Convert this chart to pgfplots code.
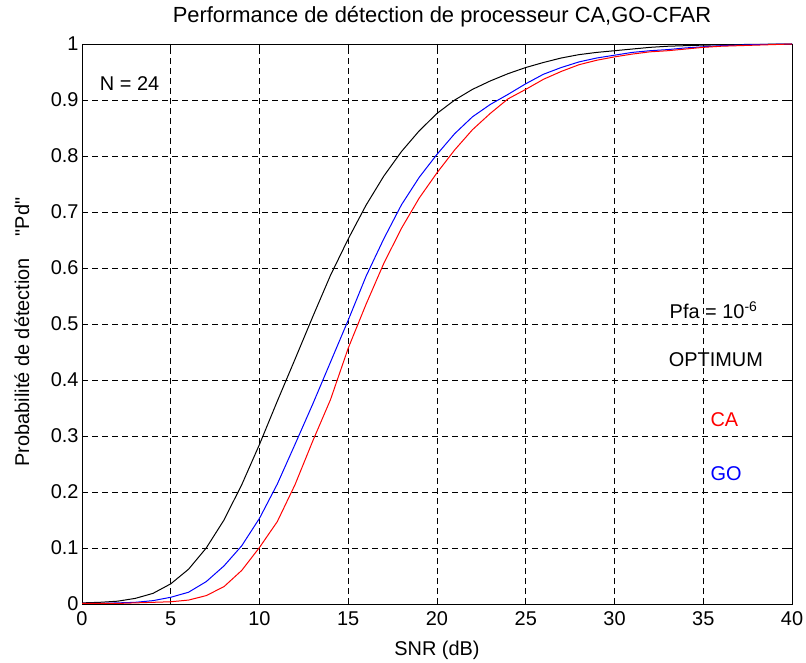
\documentclass[border=0pt]{standalone}
\usepackage{fontspec}
\setmainfont{Liberation Sans}
\newfontfamily\nomap{Liberation Sans}[Ligatures=TeXOff]
\usepackage{pgfplots}
\pgfplotsset{compat=1.18}

\newcommand{\fs}{\fontsize{20}{24}\selectfont}

\begin{document}
\begin{tikzpicture}
\begin{axis}[
    name=ax,
    scale only axis,
    width=710bp, height=560bp,
    xmin=0, xmax=40,
    ymin=0, ymax=1,
    xtick={0,5,10,15,20,25,30,35,40},
    ytick={0,0.1,0.2,0.3,0.4,0.5,0.6,0.7,0.8,0.9,1},
    grid=major,
    grid style={black, line width=0.6bp, dash pattern=on 6bp off 4bp},
    tick align=inside,
    major tick length=6bp,
    every tick/.style={black, line width=0.6bp},
    axis line style={black, line width=0.8bp},
    /pgf/number format/assume math mode=true,
    tick label style={font=\fs},
    xticklabel style={yshift=-4bp},
    title={Performance de détection de processeur CA,GO-CFAR},
    title style={font=\fontsize{22}{26}\selectfont, at={(axis description cs:0.5,1)}, anchor=center, yshift=21bp, xshift=5bp},
    xlabel={SNR (dB)},
    xlabel style={font=\fs, at={(axis description cs:0.5,0)}, anchor=center, yshift=-46bp},
    ylabel={Probabilité de détection\hspace{22bp}{\nomap "Pd"}},
    ylabel style={font=\fs, at={(axis description cs:0,0.5)}, anchor=center, yshift=60bp, xshift=-8bp},
]

% optimum
\addplot[black, line width=1bp] coordinates {
(0,0.002)(1,0.003)(2,0.005)(3,0.010)(4,0.019)(5,0.036)(6,0.062)(7,0.100)(8,0.150)(9,0.213)
(10,0.285)(11,0.362)(12,0.437)(13,0.513)(14,0.587)(15,0.652)(16,0.712)(17,0.764)(18,0.808)(19,0.845)
(20,0.876)(21,0.900)(22,0.919)(23,0.934)(24,0.947)(25,0.958)(26,0.967)(27,0.975)(28,0.981)(29,0.985)
(30,0.988)(31,0.991)(32,0.994)(33,0.996)(34,0.997)(35,0.998)(37,0.999)(40,1.0)
};

% GO
\addplot[blue, line width=1bp] coordinates {
(0,0.001)(1,0.001)(2,0.002)(3,0.003)(4,0.006)(5,0.012)(6,0.021)(7,0.040)(8,0.068)(9,0.104)
(10,0.153)(11,0.214)(12,0.285)(13,0.357)(14,0.432)(15,0.507)(16,0.585)(17,0.652)(18,0.713)(19,0.762)
(20,0.803)(21,0.840)(22,0.870)(23,0.892)(24,0.910)(25,0.929)(26,0.946)(27,0.958)(28,0.968)(29,0.975)
(30,0.980)(31,0.985)(32,0.988)(33,0.990)(34,0.993)(35,0.995)(36,0.997)(37,0.998)(38,0.999)(40,1.0)
};

% CA
\addplot[red, line width=1bp] coordinates {
(0,0.001)(2,0.001)(3,0.002)(4,0.003)(5,0.004)(6,0.007)(7,0.015)(8,0.031)(9,0.060)
(10,0.101)(11,0.147)(12,0.213)(13,0.291)(14,0.365)(15,0.457)(16,0.535)(17,0.608)(18,0.671)(19,0.725)
(20,0.770)(21,0.811)(22,0.847)(23,0.876)(24,0.902)(25,0.919)(26,0.937)(27,0.951)(28,0.963)(29,0.971)
(30,0.977)(31,0.982)(32,0.986)(33,0.988)(34,0.991)(35,0.994)(36,0.996)(37,0.997)(38,0.998)(40,1.0)
};

\node[anchor=west, font=\fs, inner sep=0pt] at (axis cs:1.0,0.93) {N = 24};
\node[anchor=west, font=\fs, inner sep=0pt] at (axis cs:33.1,0.525) {Pfa = 10\textsuperscript{-6}};
\node[anchor=west, font=\fs, inner sep=0pt] at (axis cs:33.05,0.436) {OPTIMUM};
\node[anchor=west, font=\fs, inner sep=0pt, text=red] at (axis cs:35.4,0.33) {CA};
\node[anchor=west, font=\fs, inner sep=0pt, text=blue] at (axis cs:35.4,0.233) {GO};
\end{axis}
\pgfresetboundingbox
\path[use as bounding box] ([xshift=-82bp,yshift=-59bp]ax.south west) rectangle ([xshift=14bp,yshift=44bp]ax.north east);
\end{tikzpicture}
\end{document}
